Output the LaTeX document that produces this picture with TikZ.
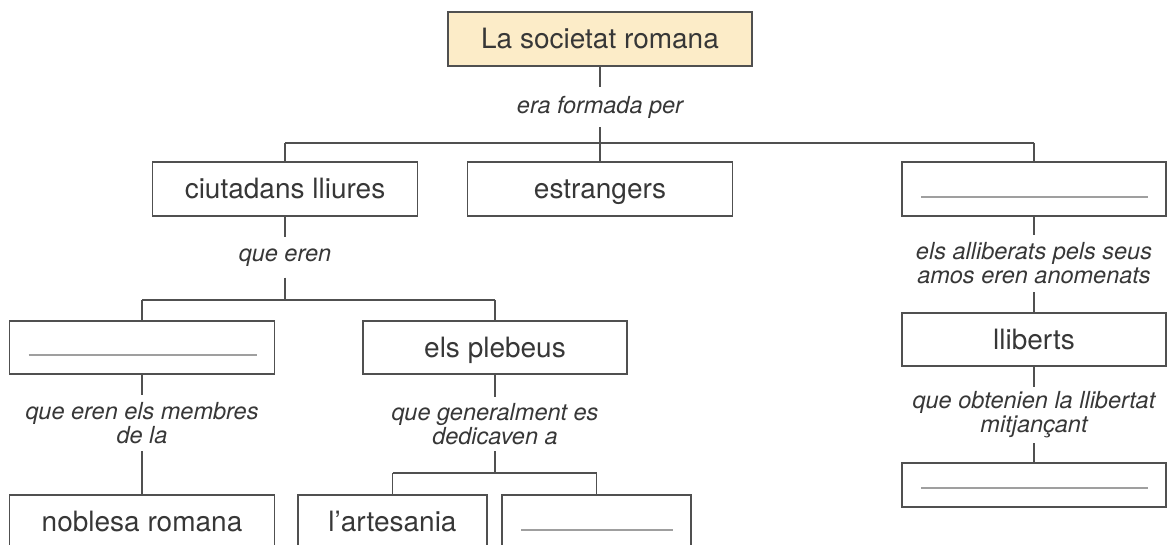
\documentclass[tikz,border=0pt]{standalone}
\usepackage{fontspec}
\setmainfont{TeX Gyre Heros}
\definecolor{groc}{RGB}{252,236,200}
\definecolor{linia}{RGB}{80,80,80}
\definecolor{lletra}{RGB}{55,55,55}

\begin{document}
\begin{tikzpicture}[x=1pt,y=-1pt,color=linia,line width=1.1pt,
	caixa/.style={draw=linia,minimum height=54pt,inner sep=0pt,text=lletra,
		font=\fontsize{28}{32}\selectfont,text height=19.5pt,text depth=0pt},
	buit/.style={caixa,path picture={\draw[gray!75,line width=1.1pt]
		([xshift=19pt,yshift=19pt]path picture bounding box.south west) --
		([xshift=-18pt,yshift=19pt]path picture bounding box.south east);}},
	enllac/.style={text=lletra,font=\fontsize{23.5}{24}\selectfont\itshape,
		align=center,inner sep=0pt}]
\useasboundingbox (0,0) rectangle (1173,545);
% caixes
\node[caixa,fill=groc,minimum width=304pt] (soc) at (600,39) {La societat romana};
\node[enllac,minimum height=39pt] (formada) at (600,107) {era formada per};
\node[caixa,minimum width=265pt] (ciutadans) at (285,189) {ciutadans lliures};
\node[caixa,minimum width=265pt] (estrangers) at (600,189) {estrangers};
\node[buit,minimum width=264pt] (esclaus) at (1034,189) {};
\node[enllac,minimum height=39pt] (eren) at (285,257.5) {que eren};
\node[buit,minimum width=265pt,minimum height=53pt] (patricis) at (142,347.5) {};
\node[caixa,minimum width=264pt,minimum height=53pt] (plebeus) at (495,347.5) {els plebeus};
\node[enllac,minimum height=55pt] (membres) at (142,423) {que eren els membres\\de la};
\node[enllac,minimum height=53pt] (dedicaven) at (495,424) {que generalment es\\dedicaven a};
\node[caixa,minimum width=265pt] (noblesa) at (142,522) {noblesa romana};
\node[caixa,minimum width=189pt] (artesania) at (392.5,522) {l'artesania};
\node[buit,minimum width=189pt] (comerc) at (596.5,522) {};
\node[enllac,minimum height=56pt] (alliberats) at (1034,263.5) {els alliberats pels seus\\amos eren anomenats};
\node[caixa,minimum width=264pt,minimum height=53pt] (lliberts) at (1034,339.5) {lliberts};
\node[enllac,minimum height=55pt] (llibertat) at (1034,415) {que obtenien la llibertat\\mitjançant};
\node[buit,minimum width=264pt,minimum height=44pt] (manumissio) at (1034,485) {};
% branques
\coordinate (n1) at (600,143);
\coordinate (n2) at (285,300);
\coordinate (n3) at (495,473);
\draw (soc) -- (formada);
\draw (formada) -- (n1);
\draw (ciutadans.north |- n1) -- (esclaus.north |- n1);
\foreach \n in {ciutadans,estrangers,esclaus}
	\draw (n1 -| \n.north) -- (\n.north);
\draw (ciutadans) -- (eren);
\draw (eren) -- (n2);
\draw (patricis.north |- n2) -- (plebeus.north |- n2);
\foreach \n in {patricis,plebeus}
	\draw (n2 -| \n.north) -- (\n.north);
\draw (patricis) -- (membres);
\draw (membres) -- (noblesa);
\draw (plebeus) -- (dedicaven);
\draw (dedicaven) -- (n3);
\draw (artesania.north |- n3) -- (comerc.north |- n3);
\foreach \n in {artesania,comerc}
	\draw (n3 -| \n.north) -- (\n.north);
\draw (esclaus) -- (alliberats);
\draw (alliberats) -- (lliberts);
\draw (lliberts) -- (llibertat);
\draw (llibertat) -- (manumissio);
\end{tikzpicture}
\end{document}
